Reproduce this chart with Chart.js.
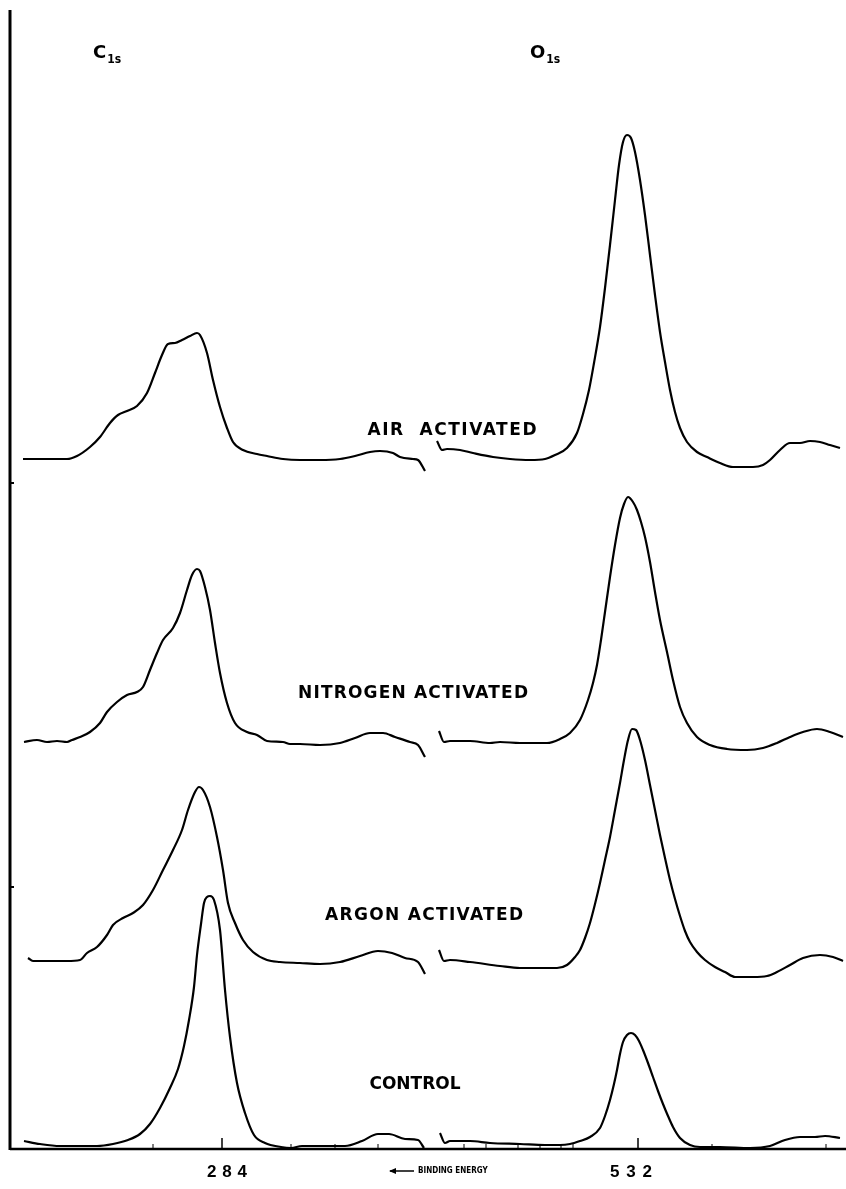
<!DOCTYPE html>
<html>
<head>
<meta charset="utf-8">
<script src="https://cdn.jsdelivr.net/npm/chart.js@4/dist/chart.umd.min.js"></script>
<style>
  html, body { margin: 0; padding: 0; background: #fff; }
  canvas { display: block; }
</style>
</head>
<body>
<canvas id="xps" width="846" height="1189"></canvas>
<script>
// XPS spectra of the C 1s and O 1s windows, one trace per sample, stacked.
// x: sweep position along the (broken) energy axis, y: detector signal incl. stacking offset.
// A null y marks the axis break between the C 1s and O 1s windows.

const airX = [13,35,57,67,80,90,100,108,117,127,137,145,152,158,165,172,180,187,190,197,203,210,217,223,233,247,257,273,290,310,330,345,360,370,383,390,403,408,415,
  421,
  427,432,437,450,463,483,500,520,535,545,557,567,573,579,584,590,595,600,605,609,613,617,621,625,630,635,640,645,650,655,660,665,670,677,687,697,710,723,743,753,760,770,780,790,800,810,820,830];
const airY = [690,690,690,693,702,712,726,734,738,743,756,776,794,805,806,809,813,816,814,796,769,742,721,707,699,695,693,690,689,689,690,693,697,698,696,692,690,689,678,
  null,
  708,699,700,699,696,692,690,689,690,694,701,716,735,759,786,822,861,904,949,984,1007,1014,1011,997,969,934,894,854,817,787,759,737,721,707,697,692,686,682,682,684,689,699,706,706,708,707,704,701];

const nitrogenX = [14,27,37,47,57,62,70,80,90,97,107,117,127,133,140,147,153,163,170,177,182,187,190,195,200,205,210,217,225,237,247,257,273,280,290,310,330,345,360,373,385,400,408,415,
  422,
  429,434,440,460,480,490,510,537,550,560,570,578,583,587,591,595,600,605,610,614,618,623,627,631,635,640,645,650,657,663,670,677,687,700,717,737,753,767,780,793,807,820,833];
const nitrogenY = [407,409,407,408,407,409,412,417,426,437,447,454,457,462,479,496,509,521,536,559,574,580,578,562,539,506,476,446,426,417,414,408,407,405,405,404,406,411,416,416,412,407,404,392,
  null,
  418,407,408,408,406,407,406,406,410,416,429,449,466,484,509,537,572,604,631,645,652,647,639,627,612,587,557,529,497,469,442,426,412,404,400,399,401,406,412,417,420,417,412];

const argonX = [18,23,40,57,70,77,87,97,103,113,123,133,143,153,163,172,178,185,189,193,200,207,213,218,225,233,243,257,270,290,310,330,350,368,382,395,408,415,
  422,
  429,434,440,460,490,510,547,557,565,570,575,580,585,590,595,600,605,610,614,618,622,626,630,635,640,645,650,655,660,665,670,675,680,687,695,705,715,725,743,757,767,780,793,810,823,833];
const argonY = [191,188,188,188,189,196,202,214,224,231,236,244,259,279,299,319,339,357,362,359,342,312,279,246,226,209,197,189,187,186,185,187,193,198,196,191,187,175,
  null,
  199,188,189,187,183,181,181,184,192,199,211,226,245,266,289,312,339,366,389,409,420,419,409,389,364,339,314,291,269,250,233,218,207,197,189,182,177,172,172,173,177,184,191,194,192,188];

const controlX = [14,30,50,87,103,118,130,140,150,160,168,174,179,184,187,191,194,197,200,204,210,215,220,227,235,244,255,271,281,292,314,335,352,368,379,395,408,414,
  422,
  430,435,440,460,480,510,535,550,560,570,580,590,595,600,604,607,610,613,617,621,625,629,633,638,643,648,653,658,663,670,680,690,710,740,760,775,790,805,815,830];
const controlY = [8,5,3,3,5,9,15,25,41,61,80,103,129,162,194,225,246,252,253,249,219,159,112,66,36,14,6,2,1,3,3,3,8,15,15,10,9,1,
  null,
  16,6,8,8,6,5,4,4,5,8,12,21,33,49,65,79,95,107,114,116,114,108,99,86,72,58,45,33,22,11,4,2,2,1,3,9,12,12,13,11];

// Sample captions and where they sit (centre x, centre y in data units)
const sampleNames  = ['AIR  ACTIVATED', 'NITROGEN ACTIVATED', 'ARGON ACTIVATED', 'CONTROL'];
const sampleLabelX = [442, 403, 414, 405];
const sampleLabelY = [718, 455, 233, 64];
const sampleLabelW = [169, 230, 198, 79];

// Core-level captions above the two windows
const levelNames = ['C', 'O'];
const levelX = [83, 520];
const levelY = [1091, 1091];

// Binding-energy ticks along the bottom edge
const energyTickValues = [212, 628];
const energyTickLabels = ['284', '532'];
const energyLabelX = [217, 621];
const energyLabelW = [40, 42];
const minorTickValues = [143, 281, 325, 368, 454, 476, 508, 530, 551, 563, 702, 816];
const sideTickValues = [666, 262];

const traces = [
  [airX, airY], [nitrogenX, nitrogenY], [argonX, argonY], [controlX, controlY]
];
const labels = ['Air activated', 'Nitrogen activated', 'Argon activated', 'Control'];

const datasets = traces.map(([xs, ys], i) => ({
  label: labels[i],
  data: xs.map((x, k) => ({ x: x, y: ys[k] })),
  borderColor: '#000',
  borderWidth: 2.2,
  pointRadius: 0,
  cubicInterpolationMode: 'monotone',
  spanGaps: false,
  fill: false
}));

function spacedText(ctx, text, cx, cy, width) {
  const n = text.length;
  ctx.letterSpacing = '0px';
  const w0 = ctx.measureText(text).width;
  const sp = n > 1 ? Math.max(0, (width - w0) / (n - 1)) : 0;
  ctx.letterSpacing = sp + 'px';
  ctx.textAlign = 'left';
  ctx.fillText(text, cx - (w0 + sp * (n - 1)) / 2, cy);
  ctx.letterSpacing = '0px';
}

const decor = {
  id: 'decor',
  afterDraw(chart) {
    const ctx = chart.ctx;
    const xs = chart.scales.x, ys = chart.scales.y;
    const area = chart.chartArea;
    ctx.save();
    ctx.strokeStyle = '#000';
    ctx.fillStyle = '#000';

    // frame: left and bottom edges
    ctx.lineWidth = 3;
    ctx.beginPath();
    ctx.moveTo(area.left, area.top);
    ctx.lineTo(area.left, area.bottom + 1);
    ctx.stroke();
    ctx.lineWidth = 2.5;
    ctx.beginPath();
    ctx.moveTo(area.left, area.bottom);
    ctx.lineTo(area.right, area.bottom);
    ctx.stroke();

    // inward ticks
    ctx.lineWidth = 1.5;
    energyTickValues.forEach(v => {
      const px = xs.getPixelForValue(v);
      ctx.beginPath(); ctx.moveTo(px, area.bottom); ctx.lineTo(px, area.bottom - 11); ctx.stroke();
    });
    ctx.lineWidth = 1;
    minorTickValues.forEach(v => {
      const px = xs.getPixelForValue(v);
      ctx.beginPath(); ctx.moveTo(px, area.bottom); ctx.lineTo(px, area.bottom - 5); ctx.stroke();
    });
    ctx.lineWidth = 2;
    sideTickValues.forEach(v => {
      const py = ys.getPixelForValue(v);
      ctx.beginPath(); ctx.moveTo(area.left, py); ctx.lineTo(area.left + 4, py); ctx.stroke();
    });

    // energy labels
    ctx.font = 'bold 17px "Liberation Sans", Arial, sans-serif';
    ctx.textBaseline = 'alphabetic';
    energyTickLabels.forEach((t, i) => {
      spacedText(ctx, t, xs.getPixelForValue(energyLabelX[i]), area.bottom + 28, energyLabelW[i]);
    });

    // binding energy arrow and caption
    const ax0 = xs.getPixelForValue(380), ax1 = xs.getPixelForValue(404);
    const ay = area.bottom + 22;
    ctx.lineWidth = 1.5;
    ctx.beginPath(); ctx.moveTo(ax0, ay); ctx.lineTo(ax1, ay); ctx.stroke();
    ctx.beginPath(); ctx.moveTo(ax0 - 1, ay); ctx.lineTo(ax0 + 6, ay - 3); ctx.lineTo(ax0 + 6, ay + 3); ctx.closePath(); ctx.fill();
    ctx.font = 'bold 8px "DejaVu Sans Condensed", "DejaVu Sans", sans-serif';
    ctx.textBaseline = 'middle';
    ctx.textAlign = 'left';
    ctx.fillText('BINDING ENERGY', ax1 + 4, ay);

    // sample captions
    ctx.font = 'bold 17px "DejaVu Sans", sans-serif';
    ctx.textBaseline = 'middle';
    sampleNames.forEach((t, i) => {
      spacedText(ctx, t, xs.getPixelForValue(sampleLabelX[i]), ys.getPixelForValue(sampleLabelY[i]), sampleLabelW[i]);
    });

    // core-level captions with subscript
    ctx.textBaseline = 'alphabetic';
    ctx.textAlign = 'left';
    levelNames.forEach((t, i) => {
      const px = xs.getPixelForValue(levelX[i]);
      const py = ys.getPixelForValue(levelY[i]);
      ctx.font = 'bold 18px "DejaVu Sans", sans-serif';
      ctx.fillText(t, px, py);
      const w = ctx.measureText(t).width;
      ctx.font = 'bold 12px "DejaVu Sans Condensed", "DejaVu Sans", sans-serif';
      ctx.fillText('1s', px + w + 1, py + 5);
    });
    ctx.restore();
  }
};

new Chart(document.getElementById('xps'), {
  type: 'line',
  data: { datasets: datasets },
  options: {
    responsive: false,
    animation: false,
    devicePixelRatio: 1,
    layout: { padding: { left: 10, right: 0, top: 10, bottom: 40 } },
    plugins: { legend: { display: false }, tooltip: { enabled: false } },
    scales: {
      x: { type: 'linear', min: 0, max: 836, display: false },
      y: { type: 'linear', min: 0, max: 1139, display: false }
    }
  },
  plugins: [decor]
});
</script>
</body>
</html>
